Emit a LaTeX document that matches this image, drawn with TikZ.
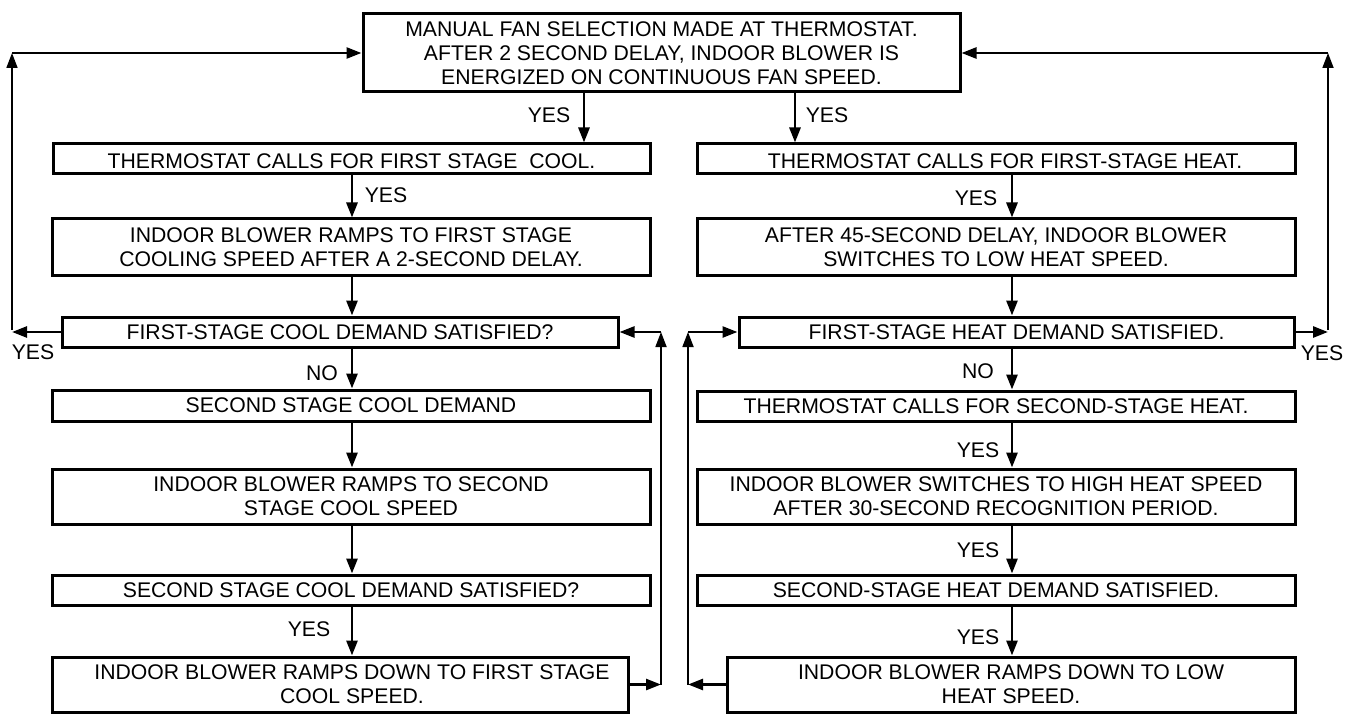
\documentclass[tikz,border=0pt]{standalone}
\usepackage{fontspec}
\setmainfont{Liberation Sans}
\usetikzlibrary{arrows.meta}
\begin{document}
\begin{tikzpicture}[x=1pt,y=-1pt,
  box/.style={draw=black, line width=3pt, inner sep=0pt, align=center,
    font=\fontsize{21.2}{24}\selectfont, anchor=center},
  lbl/.style={inner sep=0pt, font=\fontsize{21.2}{24}\selectfont, anchor=center},
  arr/.style={line width=2.8pt, -{Triangle[length=15pt,width=11pt]}},
  fb/.style={line width=1.7pt, -{Triangle[length=15pt,width=11pt]}},
  hz/.style={line width=2.6pt, -{Triangle[length=15pt,width=11pt]}}]
\fill[white] (0,0) rectangle (1356,719);
\useasboundingbox (0,0) rectangle (1356,719);

% top box
\node[box, minimum width=597pt, minimum height=78pt] (T) at (661.5,53)
  {MANUAL FAN SELECTION MADE AT THERMOSTAT.\\AFTER 2 SECOND DELAY, INDOOR BLOWER IS\\ENERGIZED ON CONTINUOUS FAN SPEED.};

% left column
\node[box, minimum width=597pt, minimum height=30pt, text height=20pt] (L1) at (351.5,159)
  {THERMOSTAT CALLS FOR FIRST STAGE\ \ COOL.};
\node[box, minimum width=598pt, minimum height=56pt] (L2) at (351,247)
  {INDOOR BLOWER RAMPS TO FIRST STAGE\\COOLING SPEED AFTER A 2-SECOND DELAY.};
\node[box, minimum width=556pt, minimum height=30pt] (L3) at (340,332)
  {FIRST-STAGE COOL DEMAND SATISFIED?};
\node[box, minimum width=598pt, minimum height=31pt] (L4) at (351,405.5)
  {SECOND STAGE COOL DEMAND};
\node[box, minimum width=598pt, minimum height=55pt] (L5) at (351,496.5)
  {INDOOR BLOWER RAMPS TO SECOND\\STAGE COOL SPEED};
\node[box, minimum width=598pt, minimum height=30pt] (L6) at (351,590)
  {SECOND STAGE COOL DEMAND SATISFIED?};
\node[box, minimum width=576pt, minimum height=55pt] (L7) at (340,684.5)
  {\hspace*{24pt}INDOOR BLOWER RAMPS DOWN TO FIRST STAGE\\\hspace*{24pt}COOL SPEED.};

% right column
\node[box, minimum width=598pt, minimum height=30pt, text height=20pt] (R1) at (996,159)
  {\hspace*{18pt}THERMOSTAT CALLS FOR FIRST-STAGE HEAT.};
\node[box, minimum width=598pt, minimum height=56pt] (R2) at (996,247)
  {AFTER 45-SECOND DELAY, INDOOR BLOWER\\SWITCHES TO LOW HEAT SPEED.};
\node[box, minimum width=555pt, minimum height=30pt] (R3) at (1016.5,332)
  {FIRST-STAGE HEAT DEMAND SATISFIED.};
\node[box, minimum width=598pt, minimum height=30pt] (R4) at (996,406)
  {THERMOSTAT CALLS FOR SECOND-STAGE HEAT.};
\node[box, minimum width=598pt, minimum height=55pt] (R5) at (996,496.5)
  {INDOOR BLOWER SWITCHES TO HIGH HEAT SPEED\\AFTER 30-SECOND RECOGNITION PERIOD.};
\node[box, minimum width=598pt, minimum height=30pt] (R6) at (996,590)
  {SECOND-STAGE HEAT DEMAND SATISFIED.};
\node[box, minimum width=568pt, minimum height=55pt] (R7) at (1011,684.5)
  {INDOOR BLOWER RAMPS DOWN TO LOW\\HEAT SPEED.};

% column x positions
\coordinate (cl) at (584,0);
\coordinate (cr) at (795,0);
\coordinate (lx) at (352,0);
\coordinate (rx) at (1012,0);

% top box to the two columns
\draw[arr] (T.south -| cl) -- (L1.north -| cl);
\draw[arr] (T.south -| cr) -- (R1.north -| cr);

% left column
\draw[arr] (L1.south -| lx) -- (L2.north -| lx);
\draw[arr] (L2.south -| lx) -- (L3.north -| lx);
\draw[arr] (L3.south -| lx) -- (L4.north -| lx);
\draw[arr] (L4.south -| lx) -- (L5.north -| lx);
\draw[arr] (L5.south -| lx) -- (L6.north -| lx);
\draw[arr] (L6.south -| lx) -- (L7.north -| lx);

% right column
\draw[arr] (R1.south -| rx) -- (R2.north -| rx);
\draw[arr] (R2.south -| rx) -- (R3.north -| rx);
\draw[arr] (R3.south -| rx) -- (R4.north -| rx);
\draw[arr] (R4.south -| rx) -- (R5.north -| rx);
\draw[arr] (R5.south -| rx) -- (R6.north -| rx);
\draw[arr] (R6.south -| rx) -- (R7.north -| rx);

% outer left loop
\coordinate (la) at (12,332);
\coordinate (lb) at (12,330);
\coordinate (lc) at (12,53);
\draw[hz] (L3.west) -- (la);
\draw[fb] (lb) -- (lc);
\draw[hz] (lc) -- (T.west);

% outer right loop
\coordinate (ra) at (1328,332);
\coordinate (rb) at (1328,330);
\coordinate (rc) at (1328,53);
\draw[hz] (R3.east) -- (ra);
\draw[fb] (rb) -- (rc);
\draw[hz] (rc) -- (T.east);

% inner left loop
\coordinate (ia) at (661,684.5);
\coordinate (ib) at (661,332);
\draw[hz] (L7.east) -- (ia);
\draw[fb] (ia) -- (ib);
\draw[hz] (ib) -- (L3.east);

% inner right loop
\coordinate (ja) at (688,684.5);
\coordinate (jb) at (688,332);
\draw[hz] (R7.west) -- (ja);
\draw[fb] (ja) -- (jb);
\draw[hz] (jb) -- (R3.west);

% labels
\node[lbl] (y1) at (549,115) {YES};
\node[lbl] (y2) at (827,115) {YES};
\node[lbl] (y3) at (386,195) {YES};
\node[lbl] (y4) at (976,198) {YES};
\node[lbl] (y5) at (33,352) {YES};
\node[lbl] (y6) at (1322,353) {YES};
\node[lbl] (n1) at (322,373) {NO};
\node[lbl] (n2) at (978,371) {NO};
\node[lbl] (y7) at (978,450) {YES};
\node[lbl] (y8) at (309,629) {YES};
\node[lbl] (y9) at (978,550) {YES};
\node[lbl] (y10) at (978,637) {YES};
\end{tikzpicture}
\end{document}
